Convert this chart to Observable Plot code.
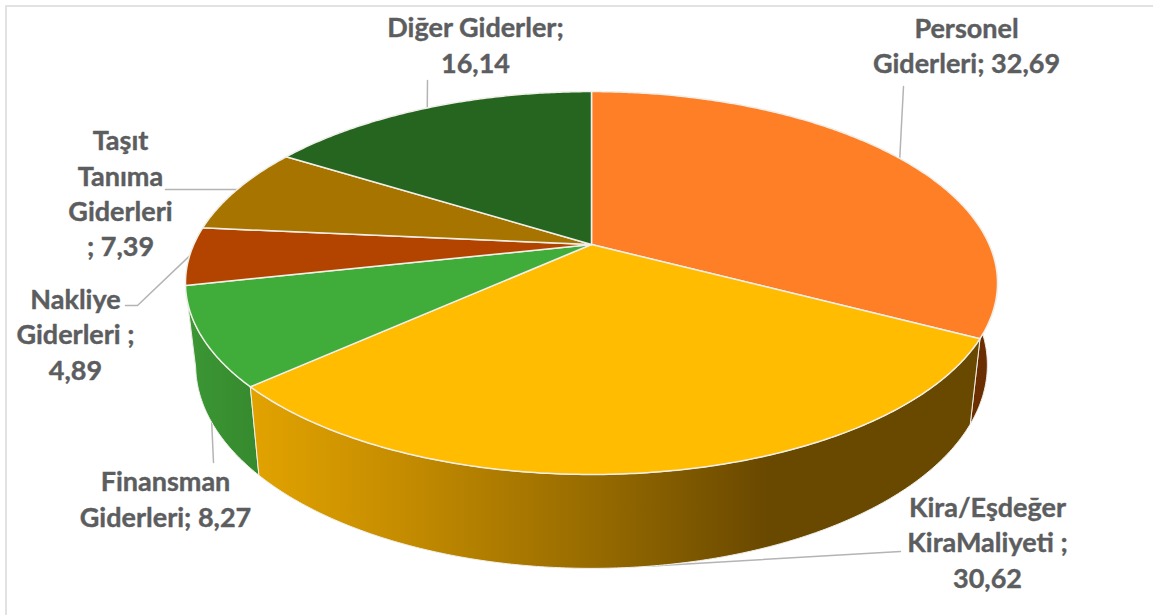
<!DOCTYPE html>
<html lang="tr">
<head>
<meta charset="utf-8">
<style>html,body{margin:0;padding:0;background:#fff;overflow:hidden}svg{display:block}</style>
<script src="https://cdn.jsdelivr.net/npm/d3@7"></script>
<script src="https://cdn.jsdelivr.net/npm/@observablehq/plot@0.6"></script>
</head>
<body>
<div id="chart"></div>
<script>
// ---- data ----
const categories = ["Personel Giderleri", "Kira/Eşdeğer KiraMaliyeti", "Finansman Giderleri", "Nakliye Giderleri", "Taşıt Tanıma Giderleri", "Diğer Giderler"];
const values = [32.69, 30.62, 8.27, 4.89, 7.39, 16.14];
const labelTexts = ["Personel\nGiderleri; 32,69", "Kira/Eşdeğer\nKiraMaliyeti ;\n30,62", "Finansman\nGiderleri; 8,27", "Nakliye\nGiderleri ;\n4,89", "Taşıt\nTanıma\nGiderleri\n; 7,39", "Diğer Giderler;\n16,14"];

// ---- style ----
const faceColors = ["#FF7F27", "#FFBC00", "#40AD3A", "#B24400", "#A87400", "#25651F"];
const sideFills = ["#6A2E00", "url(#kiraSide)", "url(#finSide)", "#6E2A00", "#6A4800", "#163F13"];
const kiraStops = [[0, "#E2A300"], [0.2, "#C68D00"], [0.47, "#976B00"], [0.71, "#694800"], [1, "#694800"]];
const finStops = [[0, "#3C9734"], [0.6, "#388F30"], [1, "#358A2D"]];
const textColor = "#5C5D5F", leaderColor = "#B4B4B4", frameColor = "#E2E2E2", edgeColor = "#F0EFEA";

// ---- layout: projection of the tilted pie, label centres and leader elbows (chart space) ----
const cx = 591, cy = 244, a = 397.7, b = 183.7, k = 0.2012, shrink = 0.975, depth = 79.6;
const labelPos = [[966, 43.5], [987, 540.5], [165, 497], [75, 332.5], [120, 191.5], [475, 43]];
const rimIsBottom = [false, true, true, false, false, false];
const leaderEnds = [[[903, 86]], [[900, 551]], [[213, 462]], [[137, 305], [125, 305]], [[165, 189]], [[427, 80]]];

function rim(thetaDeg, bottom) {
  const t = thetaDeg * Math.PI / 180, X = Math.sin(t), d = -Math.cos(t), w = 1 - k * d;
  const px = a * X / w, py = b * d / w;
  return bottom
    ? {x: cx + px * shrink, y: cy + py * shrink + depth / w}
    : {x: cx + px, y: cy + py};
}

const total = d3.sum(values);
const cum = d3.cumsum(values);
const angles = values.map((v, i) => {
  const end = cum[i] / total * 360, start = end - v / total * 360;
  return [start, end];
});
const arc = ([s, e], bottom) => {
  const n = Math.max(2, Math.ceil((e - s) * 2));
  return d3.range(n + 1).map(j => rim(s + (e - s) * j / n, bottom));
};

const facePoly = i => { const pts = arc(angles[i], false), c = {x: cx, y: cy}; return [c, ...pts, c]; };
const sidePoly = i => { const t = arc(angles[i], false), u = arc(angles[i], true).reverse(); return [...t, ...u, t[0]]; };
const leaderPoly = i => {
  const mid = (angles[i][0] + angles[i][1]) / 2;
  return [rim(mid, rimIsBottom[i]), ...leaderEnds[i].map(([x, y]) => ({x, y}))];
};

const svgNS = "http://www.w3.org/2000/svg";
function gradient(id, stops) {
  const g = document.createElementNS(svgNS, "linearGradient");
  g.setAttribute("id", id);
  g.setAttribute("x1", "0"); g.setAttribute("x2", "1"); g.setAttribute("y1", "0"); g.setAttribute("y2", "0");
  stops.forEach(([o, c]) => {
    const s = document.createElementNS(svgNS, "stop");
    s.setAttribute("offset", o); s.setAttribute("stop-color", c);
    g.appendChild(s);
  });
  return g;
}
const defsMark = () => {
  const defs = document.createElementNS(svgNS, "defs");
  defs.appendChild(gradient("kiraSide", kiraStops));
  defs.appendChild(gradient("finSide", finStops));
  return defs;
};

const labelData = categories.map((c, i) => ({name: c, text: labelTexts[i], x: labelPos[i][0], y: labelPos[i][1]}));
const sideOrder = [0, 3, 4, 5, 2, 1];

const chart = Plot.plot({
  width: 1153, height: 615,
  marginTop: 0, marginRight: 0, marginBottom: 0, marginLeft: 0,
  x: {axis: null, domain: [0, 1153], range: [0, 1153]},
  y: {axis: null, domain: [0, 615], range: [0, 615]},
  style: {background: "#fff"},
  marks: [
    defsMark,
    Plot.line([{x: 5.5, y: 615}, {x: 5.5, y: 5.5}, {x: 1153, y: 5.5}], {x: "x", y: "y", stroke: frameColor, strokeWidth: 2}),
    ...categories.map((c, i) => Plot.line(leaderPoly(i), {x: "x", y: "y", stroke: leaderColor, strokeWidth: 1.5})),
    ...sideOrder.map(i => Plot.line(sidePoly(i), {x: "x", y: "y", fill: sideFills[i], stroke: edgeColor, strokeWidth: 1})),
    ...categories.map((c, i) => Plot.line(facePoly(i), {x: "x", y: "y", fill: faceColors[i], stroke: edgeColor, strokeWidth: 1.5})),
    Plot.text(labelData, {
      x: "x", y: "y", text: "text",
      fontFamily: "Lato", fontWeight: 700, fontSize: 27, lineHeight: 1.31,
      fill: textColor, stroke: textColor, strokeWidth: 0.4, textAnchor: "middle"
    })
  ]
});
document.getElementById("chart").appendChild(chart);
</script>
</body>
</html>
